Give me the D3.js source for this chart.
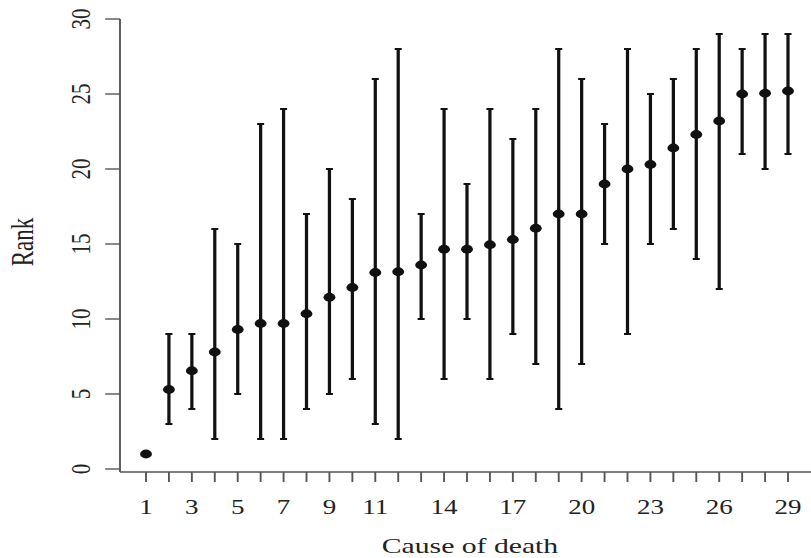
<!DOCTYPE html>
<html>
<head>
  <meta charset="utf-8">
  <script src="https://d3js.org/d3.v7.min.js"></script>
  <style>
    body { margin: 0; background: #fff; }
    text { font-family: "Liberation Serif", "Times New Roman", serif; }
  </style>
</head>
<body>
<script>
  // cause index, mean rank and rank interval
  var cause = d3.range(1, 30);
  var meanRank = [1, 5.3, 6.55, 7.8, 9.3, 9.7, 9.7, 10.35, 11.45, 12.1,
                  13.1, 13.15, 13.6, 14.65, 14.65, 14.95, 15.3, 16.05, 17.0, 17.0,
                  19.0, 20.0, 20.3, 21.4, 22.3, 23.2, 25.0, 25.05, 25.2];
  var lowRank  = [1, 3, 4, 2, 5, 2, 2, 4, 5, 6,
                  3, 2, 10, 6, 10, 6, 9, 7, 4, 7,
                  15, 9, 15, 16, 14, 12, 21, 20, 21];
  var highRank = [1, 9, 9, 16, 15, 23, 24, 17, 20, 18,
                  26, 28, 17, 24, 19, 24, 22, 24, 28, 26,
                  23, 28, 25, 26, 28, 29, 28, 29, 29];
  var xTickLabels = [1, 3, 5, 7, 9, 11, 14, 17, 20, 23, 26, 29];
  var yTickLabels = [0, 5, 10, 15, 20, 25, 30];

  var W = 811, H = 558;
  // the reference picture is stretched sideways, so draw in a narrower frame and widen it
  var sx = 1.35;
  var innerW = W / sx;

  var svg = d3.select("body").append("svg")
      .attr("width", W)
      .attr("height", H);
  var g = svg.append("g").attr("transform", "scale(" + sx + ",1)");

  var left = 120 / sx, axisY = 472;
  var x = d3.scaleLinear().domain([1, 29]).range([146 / sx, 788 / sx]);
  var y = d3.scaleLinear().domain([0, 30]).range([469, 19]);

  var axisColor = "#555", inkColor = "#111", textColor = "#222";

  // L-shaped frame
  g.append("line").attr("x1", left).attr("x2", left)
    .attr("y1", y(30)).attr("y2", axisY)
    .attr("stroke", axisColor).attr("stroke-width", 1.4);
  g.append("line").attr("x1", left).attr("x2", innerW)
    .attr("y1", axisY).attr("y2", axisY)
    .attr("stroke", axisColor).attr("stroke-width", 1.4);

  // y ticks and labels
  g.selectAll(".ytick").data(yTickLabels).enter().append("line")
    .attr("x1", left - 11).attr("x2", left)
    .attr("y1", function (d) { return y(d); })
    .attr("y2", function (d) { return y(d); })
    .attr("stroke", axisColor).attr("stroke-width", 1.4);
  g.selectAll(".ylab").data(yTickLabels).enter().append("text")
    .attr("transform", function (d) { return "translate(" + (90 / sx) + "," + y(d) + ") rotate(-90)"; })
    .attr("text-anchor", "middle")
    .attr("font-size", 21)
    .attr("fill", textColor)
    .text(function (d) { return d; });

  // x ticks at every cause, labels on a subset
  g.selectAll(".xtick").data(cause).enter().append("line")
    .attr("x1", function (d) { return x(d); })
    .attr("x2", function (d) { return x(d); })
    .attr("y1", axisY).attr("y2", axisY + 10)
    .attr("stroke", axisColor).attr("stroke-width", 1.4);
  g.selectAll(".xlab").data(xTickLabels).enter().append("text")
    .attr("x", function (d) { return x(d); })
    .attr("y", 514)
    .attr("text-anchor", "middle")
    .attr("font-size", 20)
    .attr("fill", textColor)
    .text(function (d) { return d; });

  // axis titles
  g.append("text")
    .attr("transform", "translate(" + (33 / sx) + ",242) rotate(-90)")
    .attr("text-anchor", "middle")
    .attr("font-size", 23)
    .attr("fill", textColor)
    .text("Rank");
  g.append("text")
    .attr("x", 470 / sx).attr("y", 553)
    .attr("text-anchor", "middle")
    .attr("font-size", 22)
    .attr("fill", textColor)
    .text("Cause of death");

  // interval bars with caps
  var rows = cause.map(function (c, i) {
    return { c: c, m: meanRank[i], lo: lowRank[i], hi: highRank[i] };
  });
  var bars = g.selectAll(".bar").data(rows.filter(function (d) { return d.hi > d.lo; }))
    .enter().append("g");
  bars.append("line")
    .attr("x1", function (d) { return x(d.c); })
    .attr("x2", function (d) { return x(d.c); })
    .attr("y1", function (d) { return y(d.lo); })
    .attr("y2", function (d) { return y(d.hi); })
    .attr("stroke", inkColor).attr("stroke-width", 2.4);
  ["lo", "hi"].forEach(function (k) {
    bars.append("line")
      .attr("x1", function (d) { return x(d.c) - 2.6; })
      .attr("x2", function (d) { return x(d.c) + 2.6; })
      .attr("y1", function (d) { return y(d[k]); })
      .attr("y2", function (d) { return y(d[k]); })
      .attr("stroke", inkColor).attr("stroke-width", 2);
  });

  // mean points
  g.selectAll(".pt").data(rows).enter().append("circle")
    .attr("cx", function (d) { return x(d.c); })
    .attr("cy", function (d) { return y(d.m); })
    .attr("r", 4.4)
    .attr("fill", inkColor);
</script>
</body>
</html>
